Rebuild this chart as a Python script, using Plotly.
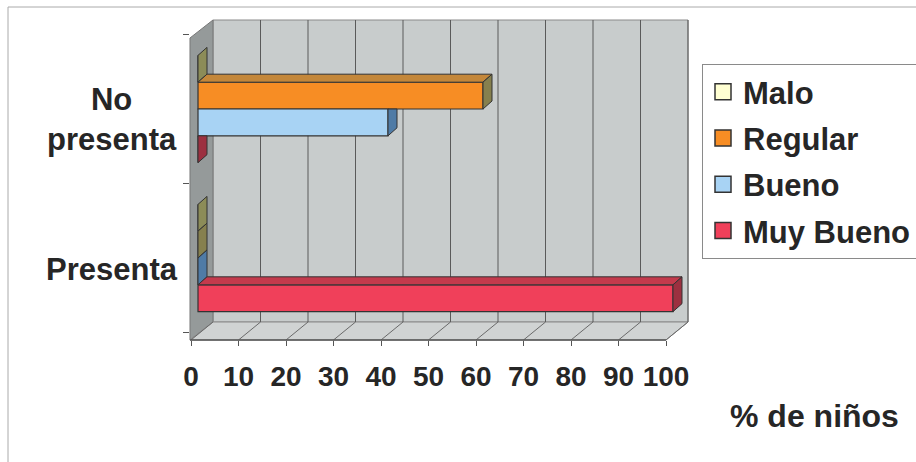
import plotly.graph_objects as go

# ---------------- data ----------------
categories = ["No presenta", "Presenta"]          # top to bottom
series_names = ["Malo", "Regular", "Bueno", "Muy Bueno"]
values = {
    "Malo":      [0, 0],
    "Regular":   [60, 0],
    "Bueno":     [40, 0],
    "Muy Bueno": [0, 100],
}
x_ticks = [0, 10, 20, 30, 40, 50, 60, 70, 80, 90, 100]
x_title = "% de niños"

# ---------------- styles ----------------
front_col = {"Malo": "#ffffd2", "Regular": "#f78d24", "Bueno": "#a8d3f4", "Muy Bueno": "#f0405a"}
top_col = {"Malo": "#d6d6a6", "Regular": "#c4873a", "Bueno": "#7ea8cc", "Muy Bueno": "#c43a4c"}
side_col = {"Malo": "#8c8c58", "Regular": "#86804e", "Bueno": "#4f7ba6", "Muy Bueno": "#9c3040"}
W, H = 916, 462
FONT = "Liberation Sans, Arial, sans-serif"
NARROW = "Liberation Sans Narrow, Arial Narrow, Liberation Sans, Arial, sans-serif"
TXT = "#262626"

def px(p):
    return p / W

def py(p):
    return 1 - p / H

# pixel geometry of the pseudo-3D frame
PX_PER_UNIT = 4.75
FRONT0 = 191          # pixel of value 0 on front floor edge
BAR0 = 198            # pixel of value 0 for bar faces
BACK_DX, BACK_DY = 22, 18
PLOT_L, PLOT_R, PLOT_T, PLOT_B = 190, 690, 20, 340
CAT_PX = 149          # pixels per category unit
CAT0_PX = 258         # pixel of the lowest category centre

bar_w = 0.18
offsets = {"Malo": 0.27, "Regular": 0.09, "Bueno": -0.09, "Muy Bueno": -0.27}
dxu = 9 / PX_PER_UNIT
dyu = 8 / CAT_PX

n = len(categories)
cat_pos = [n - 1 - i for i in range(n)]

fig = go.Figure()
for s in series_names:
    fig.add_trace(go.Bar(
        name=s, orientation="h",
        x=values[s], y=[c + offsets[s] for c in cat_pos], width=bar_w,
        marker=dict(color=front_col[s], line=dict(color="#333333", width=1.2)),
        legendgroup=s, showlegend=False, xaxis="x", yaxis="y",
    ))
    # legend entry with a larger square swatch
    fig.add_trace(go.Scatter(
        name=s, x=[None], y=[None], mode="markers", legendgroup=s, showlegend=True,
        marker=dict(symbol="square", size=16, color=front_col[s], line=dict(color="#333333", width=1.5)),
        xaxis="x", yaxis="y", hoverinfo="skip",
    ))
# carrier for the front (labelled) axis
fig.add_trace(go.Scatter(x=[], y=[], xaxis="x2", yaxis="y", showlegend=False, hoverinfo="skip"))

shapes = []
def ppath(pts):
    return "M " + " L ".join(f"{px(a):.5f},{py(b):.5f}" for a, b in pts) + " Z"
# back wall, left wall, floor
shapes.append(dict(type="rect", xref="paper", yref="paper", layer="below",
                   x0=px(PLOT_L + BACK_DX + 1), x1=px(FRONT0 + 100 * PX_PER_UNIT + BACK_DX),
                   y0=py(PLOT_B - BACK_DY), y1=py(PLOT_T),
                   fillcolor="#c8cccc", line=dict(color="#8a8a8a", width=1)))
shapes.append(dict(type="path", xref="paper", yref="paper", layer="below",
                   path=ppath([(PLOT_L, PLOT_T + BACK_DY), (PLOT_L + BACK_DX + 1, PLOT_T),
                               (PLOT_L + BACK_DX + 1, PLOT_B - BACK_DY), (PLOT_L, PLOT_B)]),
                   fillcolor="#959a9a", line=dict(color="#777", width=1)))
shapes.append(dict(type="path", xref="paper", yref="paper", layer="below",
                   path=ppath([(PLOT_L, PLOT_B), (PLOT_L + BACK_DX + 1, PLOT_B - BACK_DY),
                               (FRONT0 + 100 * PX_PER_UNIT + BACK_DX, PLOT_B - BACK_DY),
                               (FRONT0 + 100 * PX_PER_UNIT, PLOT_B)]),
                   fillcolor="#d0d3d3", line=dict(color="#8a8a8a", width=1)))
back_off = BACK_DX / PX_PER_UNIT
for t in x_ticks[1:]:
    shapes.append(dict(type="line", xref="x2", yref="paper", layer="below",
                       x0=t + back_off, x1=t + back_off, y0=py(PLOT_B - BACK_DY), y1=py(PLOT_T),
                       line=dict(color="#5a5a5a", width=1)))
for t in x_ticks:
    shapes.append(dict(type="line", xref="x2", yref="paper", layer="below",
                       x0=t, x1=t + back_off, y0=py(PLOT_B), y1=py(PLOT_B - BACK_DY),
                       line=dict(color="#6a6a6a", width=1)))
shapes.append(dict(type="line", xref="x2", yref="paper", layer="below",
                   x0=(PLOT_L - FRONT0) / PX_PER_UNIT, x1=x_ticks[-1], y0=py(PLOT_B), y1=py(PLOT_B),
                   line=dict(color="#555", width=1.5)))

# pseudo-3D faces of the bars
def dpath(pts):
    return "M " + " L ".join(f"{a:.4f},{b:.4f}" for a, b in pts) + " Z"
for ci, c in enumerate(cat_pos):
    for j, s in enumerate(series_names):
        v = values[s][ci]
        yc = c + offsets[s]
        yt, yb = yc + bar_w / 2, yc - bar_w / 2
        v_above = values[series_names[j - 1]][ci] if j > 0 else None
        xa = 0 if v_above is None else min(v_above, v)
        if v > xa:
            shapes.append(dict(type="path", xref="x", yref="y", layer="above",
                               path=dpath([(xa, yt), (v, yt), (v + dxu, yt + dyu), (xa + dxu, yt + dyu)]),
                               fillcolor=top_col[s], line=dict(color="#333", width=1)))
        if v_above is not None and v_above > v:
            pts = [(v, yb), (v, yt), (v + dxu, yt), (v + dxu, yb + dyu)]
        else:
            pts = [(v, yb), (v, yt), (v + dxu, yt + dyu), (v + dxu, yb + dyu)]
        shapes.append(dict(type="path", xref="x", yref="y", layer="above",
                           path=dpath(pts), fillcolor=side_col[s], line=dict(color="#333", width=1)))

# outer chart border
shapes.append(dict(type="rect", xref="paper", yref="paper", layer="below",
                   x0=px(8), x1=px(W + 5), y0=py(H + 5), y1=py(7),
                   line=dict(color="#aaaaaa", width=1), fillcolor="rgba(0,0,0,0)"))

annotations = []
for ci, c in enumerate(cat_pos):
    label = categories[ci].replace(" ", "<br>")
    annotations.append(dict(text=label, xref="paper", yref="y", x=px(112), y=c,
                            xanchor="center", yanchor="middle", align="center", showarrow=False,
                            yshift=-11, font=dict(family=FONT, size=31, color=TXT, weight="bold")))
annotations.append(dict(text=x_title, xref="paper", yref="paper", x=px(814), y=py(416),
                        xanchor="center", yanchor="middle", showarrow=False,
                        font=dict(family=FONT, size=32, color=TXT, weight="bold")))

fig.update_layout(
    width=W, height=H, margin=dict(l=0, r=0, t=0, b=0, autoexpand=False),
    paper_bgcolor="white", plot_bgcolor="rgba(0,0,0,0)",
    barmode="overlay", showlegend=True,
    xaxis=dict(domain=[px(PLOT_L), px(PLOT_R)], automargin=False,
               range=[(PLOT_L - BAR0) / PX_PER_UNIT, (PLOT_R - BAR0) / PX_PER_UNIT],
               showgrid=False, zeroline=False, showticklabels=False, ticks="", showline=False),
    xaxis2=dict(overlaying="x", anchor="y", side="bottom", automargin=False,
                range=[(PLOT_L - FRONT0) / PX_PER_UNIT, (PLOT_R - FRONT0) / PX_PER_UNIT],
                tickvals=x_ticks, ticktext=[str(t) for t in x_ticks], tickangle=0,
                ticks="outside", ticklen=5, tickcolor="#555", tickwidth=1,
                ticklabelstandoff=6,
                showgrid=False, zeroline=False, showline=False,
                tickfont=dict(family=NARROW, size=28, color=TXT, weight="bold")),
    yaxis=dict(domain=[py(PLOT_B), py(PLOT_T)], automargin=False,
               range=[-(PLOT_B - CAT0_PX) / CAT_PX, (CAT0_PX - PLOT_T) / CAT_PX],
               tickvals=[-0.5, 0.5, 1.5], ticktext=["", "", ""],
               ticks="outside", ticklen=6, tickcolor="#555",
               showgrid=False, zeroline=False, showline=False),
    legend=dict(x=px(702), y=py(64), xanchor="left", yanchor="top",
                bgcolor="white", bordercolor="#8a8a8a", borderwidth=1,
                tracegroupgap=3, traceorder="grouped", itemsizing="trace",
                font=dict(family=FONT, size=31, color=TXT, weight="bold")),
    shapes=shapes, annotations=annotations,
)

fig.write_html("out.html")
